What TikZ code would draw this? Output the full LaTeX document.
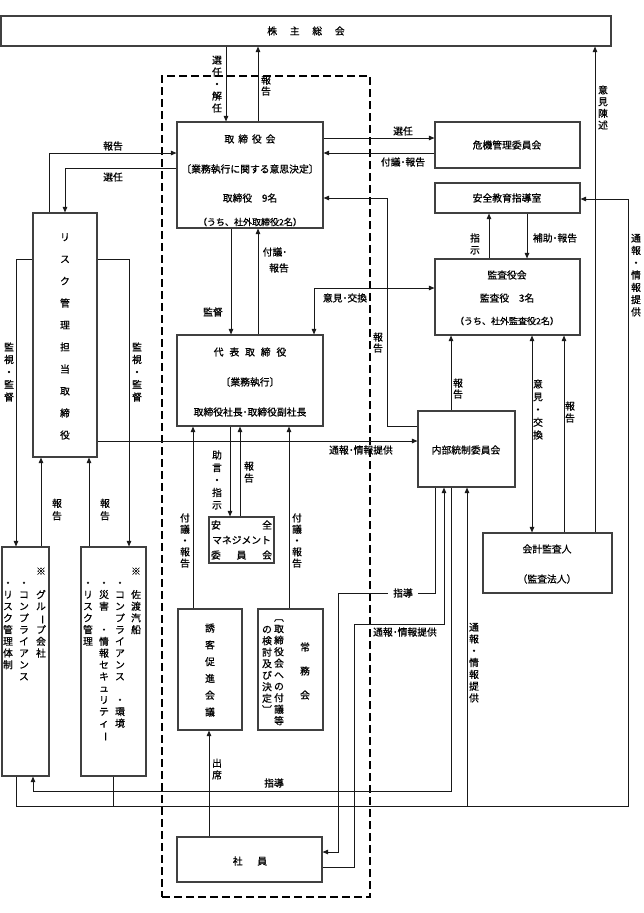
\documentclass[tikz,border=0pt]{standalone}
\usepackage{fontspec}
\setmainfont{Noto Sans CJK JP}[FakeBold=0.8]
\usepackage{graphicx}
\usetikzlibrary{arrows.meta,fit}
\makeatletter
\newcommand\vt[2][11.7]{\vbox{\baselineskip=#1pt\lineskiplimit=-100pt\lineskip=0pt\vt@#2\vt@end}}
\def\vt@end{\vt@end}
\def\vt@#1{\ifx#1\vt@end\else\hbox to 1em{\hss\rule[-0.12em]{0pt}{1em}#1\hss}\expandafter\vt@\fi}
\makeatother
\newcommand\kk{\phantom{国}}
\newcommand\vbar{\rotatebox[origin=c]{-90}{ー}}
\newcommand\lbv{\rotatebox[origin=c]{-90}{〔}}
\newcommand\rbv{\rotatebox[origin=c]{-90}{〕}}
\begin{document}
\begin{tikzpicture}[x=1pt,y=-1pt,
  box/.style={draw=black!75,line width=1.1pt,inner sep=0pt},
  ln/.style={draw=black!90,line width=0.85pt},
  arr/.style={ln,-{Triangle[length=5.5pt,width=4.5pt]}},
  biarr/.style={ln,{Triangle[length=5.5pt,width=4.5pt]}-{Triangle[length=5.5pt,width=4.5pt]}},
  dbox/.style={draw=black,line width=1.8pt,dash pattern=on 8pt off 4pt,inner sep=0pt},
  small/.style={font=\fontsize{9}{10}\selectfont},
  every node/.style={font=\fontsize{9.8}{11}\selectfont,inner sep=0pt}]
\useasboundingbox (0,0) rectangle (644,913);
% boxes
\node[dbox,fit={(162,76)(370,897)}] (dash) {};
\node[box,fit={(1,16)(611,46)}] (agm) {};
\node[box,fit={(177,122)(323,228)}] (bod) {};
\node[box,fit={(435,122)(580,168)}] (crisis) {};
\node[box,fit={(435,183)(580,213)}] (edu) {};
\node[box,fit={(435,259)(580,335)}] (aud) {};
\node[box,fit={(33,213)(97,457)}] (risk) {};
\node[box,fit={(177,335)(323,426)}] (rep) {};
\node[box,fit={(418,411)(515,487)}] (icc) {};
\node[box,fit={(209,517)(274,563)}] (smc) {};
\node[box,fit={(483,533)(612,593)}] (acc) {};
\node[box,fit={(2,547)(49,776)}] (grp) {};
\node[box,fit={(81,547)(146,776)}] (sado) {};
\node[box,fit={(178,609)(242,730)}] (yuk) {};
\node[box,fit={(258,609)(323,730)}] (jomu) {};
\node[box,fit={(177,837)(322,882)}] (emp) {};
% box texts
\node (tagm) at (306,31) {株\hspace{1.3em}主\hspace{1.3em}総\hspace{1.3em}会};
\node (tbod1) at (250,139) {取\hspace{0.4em}締\hspace{0.4em}役\hspace{0.4em}会};
\node (tbod2) at (250,169) {〔業務執行に関する意思決定〕};
\node (tbod3) at (250,198) {取締役　9名};
\node[small] (tbod4) at (250,222) {（うち、社外取締役2名）};
\node (tcrisis) at (507,145) {危機管理委員会};
\node (tedu) at (507,198) {安全教育指導室};
\node (taud1) at (507,275) {監査役会};
\node (taud2) at (507,298) {監査役　3名};
\node[small] (taud3) at (507,321) {（うち、社外監査役2名）};
\node (trep1) at (250,352) {代\hspace{0.6em}表\hspace{0.6em}取\hspace{0.6em}締\hspace{0.6em}役};
\node (trep2) at (250,382) {〔業務執行〕};
\node (trep3) at (250,412) {取締役社長･取締役副社長};
\node (ticc) at (466,450) {内部統制委員会};
\node (tacc1) at (547,549) {会計監査人};
\node (tacc2) at (547,579) {（監査法人）};
\node (temp) at (250,861) {社\hspace{1.5em}員};
\node (trisk) at (65,336) {\vt[22]{リスク管理担当取締役}};
\node (tyuk) at (210,670) {\vt[16.8]{誘客促進会議}};
\node (tjomuA) at (305,671) {\vt[24]{常務会}};
\node[anchor=north] (tjomuB) at (279,612.1) {\vt[11.5]{\lbv 取締役会への付議等}};
\node[anchor=north] (tjomuC) at (267,624.1) {\vt[11.5]{の検討及び決定\rbv}};
\node[text width=61pt,align=center,font=\fontsize{9.8}{15}\selectfont] (tsmc) at (241.5,540) {安\hfill 全\\マネジメント\\委\hfill 員\hfill 会};
\node[anchor=north] (g1) at (41,566) {\vt{※\kk グル\vbar プ会社}};
\node[anchor=north] (g2) at (24,566) {\vt{\kk ・コンプライアンス}};
\node[anchor=north] (g3) at (8,566) {\vt{\kk ・リスク管理体制}};
\node[anchor=north] (s1) at (136,566) {\vt{※\kk 佐渡汽船}};
\node[anchor=north] (s2) at (120,566) {\vt{\kk ・コンプライアンス\kk ・環境}};
\node[anchor=north] (s3) at (104,566) {\vt{\kk ・災害\kk ・情報セキュリティ\vbar}};
\node[anchor=north] (s4) at (88,566) {\vt{\kk ・リスク管理}};
% connectors
\draw[arr] (226,0 |- agm.south) -- (226,0 |- bod.north);
\draw[arr] (258,0 |- bod.north) -- (258,0 |- agm.south);
\draw[arr] (bod.east |- 0,138) -- (crisis.west |- 0,138);
\draw[arr] (crisis.west |- 0,153) -- (bod.east |- 0,153);
\draw[arr] (49,0 |- risk.north) -- (49,153) -- (bod.west |- 0,153);
\draw[arr] (bod.west |- 0,168) -- (65,168) -- (65,0 |- risk.north);
\draw[arr] (231,0 |- bod.south) -- (231,0 |- rep.north);
\draw[arr] (258,0 |- rep.north) -- (258,0 |- bod.south);
\draw[biarr] (314,0 |- rep.north) -- (314,288) -- (aud.west |- 0,288);
\draw[arr] (icc.west |- 0,426) -- (387,426) -- (387,198) -- (bod.east |- 0,198);
\draw[arr] (489,0 |- aud.north) -- (489,0 |- edu.south);
\draw[arr] (527,0 |- edu.south) -- (527,0 |- aud.north);
\draw[arr] (451,0 |- icc.north) -- (451,0 |- aud.south);
\draw[biarr] (532,0 |- aud.south) -- (532,0 |- acc.north);
\draw[arr] (564,0 |- acc.north) -- (564,0 |- aud.south);
\draw[arr] (595,0 |- acc.north) -- (595,0 |- agm.south);
\draw[arr] (16,0 |- grp.south) -- (16,806) -- (628,806) -- (628,199) -- (edu.east |- 0,199);
\draw[ln] (113,0 |- sado.south) -- (113,806);
\draw[arr] (467,806) -- (467,0 |- icc.south);
\draw[arr] (risk.east |- 0,441) -- (icc.west |- 0,441);
\draw[arr] (risk.west |- 0,259) -- (16,259) -- (16,0 |- grp.north);
\draw[arr] (risk.east |- 0,259) -- (129,259) -- (129,0 |- sado.north);
\draw[arr] (41,0 |- grp.north) -- (41,0 |- risk.south);
\draw[arr] (89,0 |- sado.north) -- (89,0 |- risk.south);
\draw[arr] (230,0 |- rep.south) -- (230,0 |- smc.north);
\draw[arr] (240,0 |- smc.north) -- (240,0 |- rep.south);
\draw[arr] (193,0 |- yuk.north) -- (193,0 |- rep.south);
\draw[arr] (289,0 |- jomu.north) -- (289,0 |- rep.south);
\draw[arr] (209,0 |- emp.north) -- (209,0 |- yuk.south);
\draw[arr] (435,0 |- icc.south) -- (435,593) -- (338,593) -- (338,852) -- (emp.east |- 0,852);
\draw[arr] (emp.east |- 0,867) -- (354,867) -- (354,624) -- (444,624) -- (444,0 |- icc.south);
\draw[arr] (451,0 |- icc.south) -- (451,791) -- (33,791) -- (33,0 |- grp.south);
% labels
\node (l1) at (217,84) {\vt[12]{選任・解任}};
\node (l2) at (266,85.5) {\vt[11]{報告}};
\node (l3) at (403,131) {選任};
\node (l4) at (403,162) {付議･報告};
\node (l5) at (113,146) {報告};
\node (l6) at (113,177) {選任};
\node (l7) at (603,107.5) {\vt[11.7]{意見陳述}};
\node (l8) at (636,275) {\vt[12.3]{通報・情報提供}};
\node (l9) at (475,244) {\vt[12]{指示}};
\node (l10) at (555,238) {補助･報告};
\node (l11) at (275,252) {付議･};
\node (l12) at (279,268) {報告};
\node (l13) at (213,312) {監督};
\node (l14) at (345,298) {意見･交換};
\node (l15) at (378,342.5) {\vt[11]{報告}};
\node (l16) at (458,388.5) {\vt[11]{報告}};
\node (l17) at (538,409.5) {\vt[12.75]{意見・交換}};
\node (l18) at (570,412) {\vt[12]{報告}};
\node (l19) at (9,372) {\vt[12.5]{監視・監督}};
\node (l20) at (137,372) {\vt[12.5]{監視・監督}};
\node (l21) at (361,450) {通報･情報提供};
\node (l22) at (57,509.5) {\vt[12.5]{報告}};
\node (l23) at (105,509.5) {\vt[12.5]{報告}};
\node (l24) at (217,480) {\vt[12.5]{助言・指示}};
\node (l25) at (249,472) {\vt[12]{報告}};
\node (l26) at (185,540.5) {\vt[11.3]{付議・報告}};
\node (l27) at (297,540.5) {\vt[11.3]{付議・報告}};
\node[fill=white,inner xsep=5.5pt,inner ysep=1pt] (l28) at (403,593) {指導};
\node (l29) at (405,632) {通報･情報提供};
\node (l30) at (474,662.5) {\vt[11.8]{通報・情報提供}};
\node (l31) at (217,769) {\vt[12]{出席}};
\node (l32) at (274,783) {指導};
\end{tikzpicture}
\end{document}
